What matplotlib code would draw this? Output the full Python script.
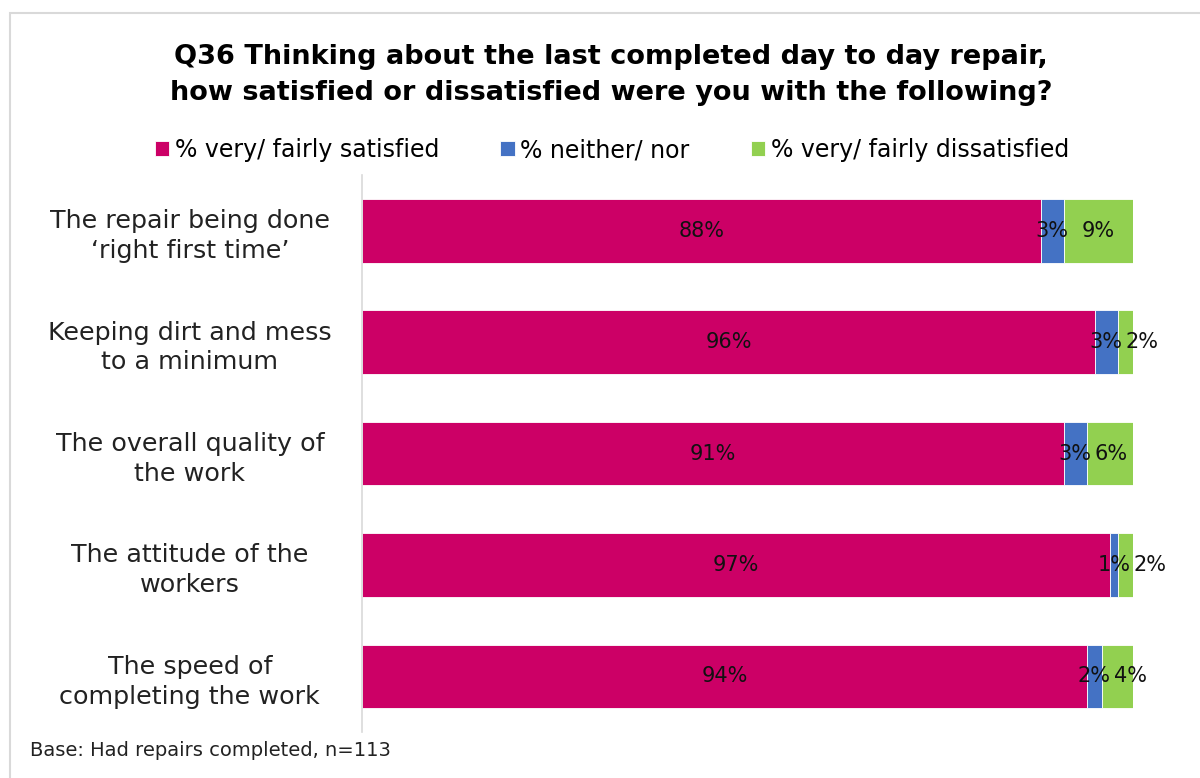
import numpy as np
import matplotlib.pyplot as plt
from matplotlib.patches import Rectangle

plt.rcParams['font.family'] = ['DejaVu Sans']

categories = ["The repair being done\n\u2018right first time\u2019",
              "Keeping dirt and mess\nto a minimum",
              "The overall quality of\nthe work",
              "The attitude of the\nworkers",
              "The speed of\ncompleting the work"]
satisfied = [88, 96, 91, 97, 94]
neither = [3, 3, 3, 1, 2]
dissatisfied = [9, 2, 6, 2, 4]

series_names = ["% very/ fairly satisfied", "% neither/ nor", "% very/ fairly dissatisfied"]
series_colors = ["#CC0066", "#4472C4", "#92D050"]

fig = plt.figure(figsize=(12, 7.78), dpi=100)
ax = fig.add_axes([0.3017, 0.059, 0.6425, 0.716])

# light frame around the chart area
fig.patches.append(Rectangle((10/1200, -0.05), 1.2, 1 - 13/778 + 0.05, transform=fig.transFigure,
                             fill=False, edgecolor="#D9D9D9", linewidth=1.5))

data = np.array([satisfied, neither, dissatisfied], dtype=float)
totals = data.sum(axis=0)
shares = data / totals  # 100% stacked
y = np.arange(len(categories))
left = np.zeros(len(categories))
labels = []
for vals, share, name, col in zip(data, shares, series_names, series_colors):
    ax.barh(y, share, left=left, height=0.57, color=col, edgecolor="white",
            linewidth=0.6, label=name)
    row = []
    for yi, l, s, v in zip(y, left, share, vals):
        row.append(ax.text(l + s / 2, yi, f"{v:.0f}%", ha="center", va="center",
                           fontsize=15, color="#111111"))
    labels.append(row)
    left += share

ax.set_xlim(0, 1)
ax.set_ylim(len(categories) - 0.5, -0.5)
ax.set_yticks(y)
ax.set_yticklabels(categories, fontsize=18.3, ha="center", linespacing=1.3, color="#222222")
ax.tick_params(axis="y", length=0, pad=124)
ax.set_xticks([])
for side in ["top", "right", "bottom"]:
    ax.spines[side].set_visible(False)
ax.spines["left"].set_color("#D9D9D9")
ax.spines["left"].set_linewidth(1.2)

fig.text(0.509, 0.903, "Q36 Thinking about the last completed day to day repair,\nhow satisfied or dissatisfied were you with the following?",
         ha="center", va="center", fontsize=19.5, fontweight="bold", linespacing=1.5)

fig.legend(loc="center", bbox_to_anchor=(0.51, 0.807), ncol=3, frameon=False, fontsize=17,
           handlelength=0.6, handleheight=0.6, handletextpad=0.25, columnspacing=2.6)

fig.text(0.025, 0.035, "Base: Had repairs completed, n=113", ha="left", va="center", fontsize=14,
         color="#222222")

# push the dissatisfied label right when it runs into the neither label
fig.canvas.draw()
renderer = fig.canvas.get_renderer()
inv = ax.transData.inverted()
for mid, last in zip(labels[1], labels[2]):
    mid_box = mid.get_window_extent(renderer)
    last_box = last.get_window_extent(renderer)
    gap = mid_box.x1 + 3 - last_box.x0
    if gap > 0:
        x_disp = ax.transData.transform(last.get_position())[0] + gap
        last.set_x(inv.transform((x_disp, 0))[0])

fig.savefig("out.png", dpi=100)
